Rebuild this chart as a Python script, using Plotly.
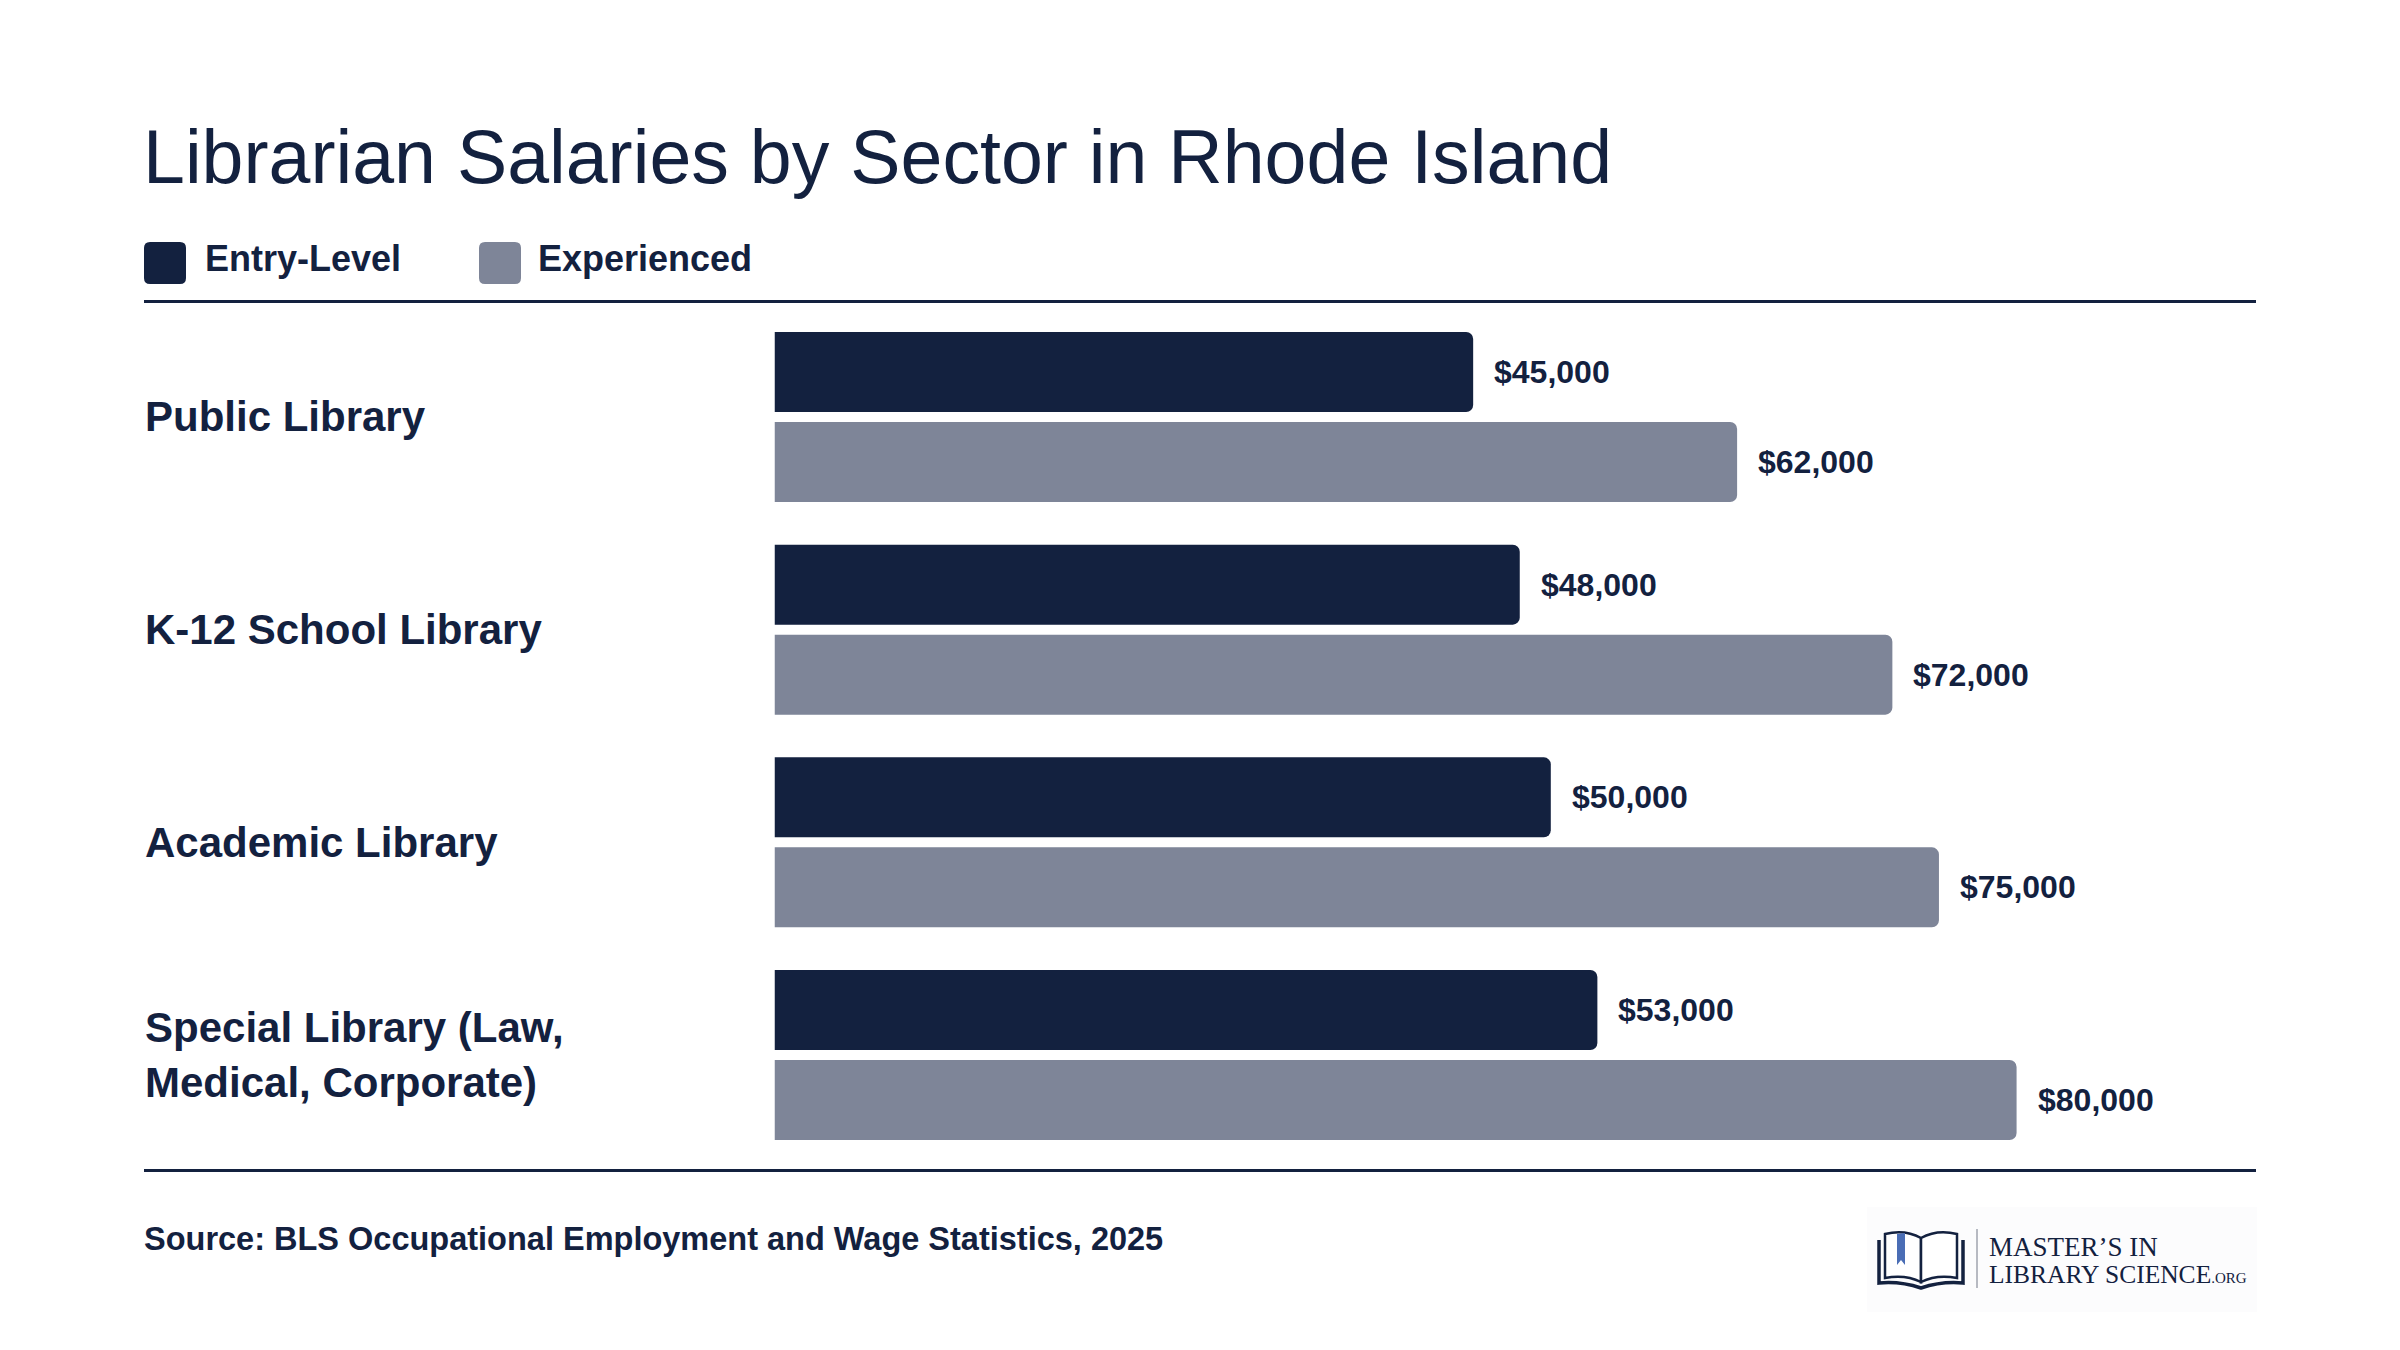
import textwrap
import plotly.graph_objects as go

# ---------------- data ----------------
categories = [
    "Public Library",
    "K-12 School Library",
    "Academic Library",
    "Special Library (Law, Medical, Corporate)",
]
series_names = ["Entry-Level", "Experienced"]
entry_level = [45000, 48000, 50000, 53000]
experienced = [62000, 72000, 75000, 80000]
title_text = "Librarian Salaries by Sector in Rhode Island"
source_text = "Source: BLS Occupational Employment and Wage Statistics, 2025"
logo_line1 = "MASTER\u2019S IN"
logo_line2 = "LIBRARY SCIENCE"
logo_suffix = ".ORG"

# ---------------- style ----------------
W, H = 2400, 1350
NAVY = "#13213f"
GRAY = "#7e8598"
FONT = "Liberation Sans, Arial, Helvetica, sans-serif"
SERIF = "Liberation Serif, Times New Roman, serif"
series_colors = [NAVY, GRAY]


def px(x):
    return x / W


def py(y):
    return 1 - y / H


fig = go.Figure()
for name, vals, col in zip(series_names, [entry_level, experienced], series_colors):
    fig.add_trace(
        go.Bar(
            y=categories,
            x=vals,
            name=name,
            orientation="h",
            marker=dict(color=col, cornerradius=7, line=dict(width=0)),
            hoverinfo="skip",
            showlegend=False,
        )
    )

# value labels
for vals, shift in zip([entry_level, experienced], [45, -45]):
    for c, v in zip(categories, vals):
        fig.add_annotation(
            x=v, y=c, xref="x", yref="y",
            text=f"${v:,}",
            xanchor="left", yanchor="middle",
            xshift=19, yshift=shift,
            showarrow=False,
            font=dict(size=32, color=NAVY, family=FONT, weight="bold"),
        )

# category labels
for c in categories:
    fig.add_annotation(
        x=px(143), y=c, xref="paper", yref="y",
        text="<br>".join(textwrap.wrap(c, 22)),
        xanchor="left", yanchor="middle", align="left",
        showarrow=False,
        font=dict(size=42, color=NAVY, family=FONT, weight="bold"),
    )

# title
fig.add_annotation(
    x=px(141), y=py(156.5), xref="paper", yref="paper",
    text=title_text, xanchor="left", yanchor="middle", showarrow=False,
    font=dict(size=75.3, color=NAVY, family=FONT),
)

# legend (custom)
def rrect(x0, y0, x1, y1, r):
    pts = (
        f"M {px(x0 + r)} {py(y0)} L {px(x1 - r)} {py(y0)} "
        f"Q {px(x1)} {py(y0)} {px(x1)} {py(y0 + r)} L {px(x1)} {py(y1 - r)} "
        f"Q {px(x1)} {py(y1)} {px(x1 - r)} {py(y1)} L {px(x0 + r)} {py(y1)} "
        f"Q {px(x0)} {py(y1)} {px(x0)} {py(y1 - r)} L {px(x0)} {py(y0 + r)} "
        f"Q {px(x0)} {py(y0)} {px(x0 + r)} {py(y0)} Z"
    )
    return pts


legend_x = [(144, 203), (479, 536)]
for (sx, tx), name, col in zip(legend_x, series_names, series_colors):
    fig.add_shape(type="path", xref="paper", yref="paper",
                  path=rrect(sx, 242, sx + 42, 284, 6),
                  fillcolor=col, line=dict(width=0))
    fig.add_annotation(
        x=px(tx), y=py(258), xref="paper", yref="paper",
        text=name, xanchor="left", yanchor="middle", showarrow=False,
        font=dict(size=36, color=NAVY, family=FONT, weight="bold"),
    )

# rules
for yy in (301.5, 1170.5):
    fig.add_shape(type="line", xref="paper", yref="paper",
                  x0=px(144), x1=px(2256), y0=py(yy), y1=py(yy),
                  line=dict(color=NAVY, width=3))

# source
fig.add_annotation(
    x=px(142), y=py(1239), xref="paper", yref="paper",
    text=source_text, xanchor="left", yanchor="middle", showarrow=False,
    font=dict(size=32.5, color=NAVY, family=FONT, weight="bold"),
)

# logo
fig.add_shape(type="rect", xref="paper", yref="paper",
              x0=px(1867), x1=px(2257), y0=py(1207), y1=py(1312),
              fillcolor="#fcfcfd", line=dict(width=0), layer="below")
fig.add_shape(type="path", xref="paper", yref="paper",
              path=(f"M {px(1879)} {py(1240)} L {px(1879)} {py(1283)} "
                    f"Q {px(1900)} {py(1281)} {px(1921)} {py(1288)} "
                    f"Q {px(1942)} {py(1281)} {px(1963)} {py(1283)} L {px(1963)} {py(1240)}"),
              line=dict(color=NAVY, width=3.5))
for sgn in (-1, 1):
    fig.add_shape(type="path", xref="paper", yref="paper",
                  path=(f"M {px(1921)} {py(1238)} Q {px(1921 + sgn*16)} {py(1229)} {px(1921 + sgn*36)} {py(1234)} "
                        f"L {px(1921 + sgn*36)} {py(1278)} Q {px(1921 + sgn*16)} {py(1274)} {px(1921)} {py(1282)} Z"),
                  fillcolor="white", line=dict(color=NAVY, width=2.5))
fig.add_shape(type="path", xref="paper", yref="paper",
              path=(f"M {px(1897)} {py(1234)} L {px(1905)} {py(1233)} L {px(1905)} {py(1265)} "
                    f"L {px(1901)} {py(1260)} L {px(1897)} {py(1265)} Z"),
              fillcolor="#4a6db5", line=dict(width=0))
fig.add_shape(type="line", xref="paper", yref="paper",
              x0=px(1977), x1=px(1977), y0=py(1229), y1=py(1288),
              line=dict(color="#a0a4ae", width=1.5))
fig.add_annotation(
    x=px(1987), y=py(1247), xref="paper", yref="paper",
    text=logo_line1, xanchor="left", yanchor="middle", showarrow=False,
    font=dict(size=27, color=NAVY, family=SERIF),
)
fig.add_annotation(
    x=px(1987), y=py(1274), xref="paper", yref="paper",
    text=f"{logo_line2}<span style='font-size:15px'>{logo_suffix}</span>",
    xanchor="left", yanchor="middle", showarrow=False,
    font=dict(size=25.5, color=NAVY, family=SERIF),
)

x_zero_px, x_end_px, px_per_unit = 774.5, 2256, 15.526 / 1000
fig.update_layout(
    width=W, height=H,
    margin=dict(l=0, r=0, t=0, b=0),
    paper_bgcolor="white", plot_bgcolor="white",
    barmode="group", bargap=0.154, bargroupgap=0.111,
    showlegend=False,
    xaxis=dict(domain=[px(x_zero_px), px(x_end_px)],
               range=[0, (x_end_px - x_zero_px) / px_per_unit],
               showgrid=False, zeroline=False, showticklabels=False, showline=False),
    yaxis=dict(domain=[py(1161.35), py(310.65)], type="category",
               categoryorder="array", categoryarray=categories,
               range=[len(categories) - 0.5, -0.5],
               showgrid=False, zeroline=False, showticklabels=False, showline=False),
    font=dict(family=FONT, color=NAVY),
)

fig.write_html("out.html")
